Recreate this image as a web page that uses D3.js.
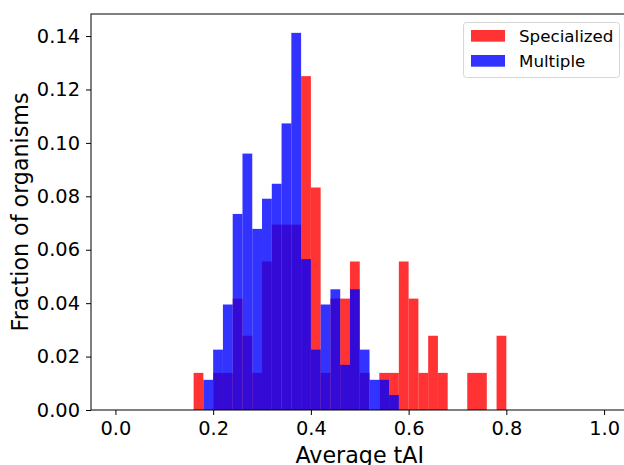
<!DOCTYPE html>
<html>
<head>
<meta charset="utf-8">
<script src="https://cdn.jsdelivr.net/npm/d3@7"></script>
<style>
  body { margin: 0; background: #fff; }
  svg { display: block; font-family: "DejaVu Sans", sans-serif; }
</style>
</head>
<body>
<svg id="hist" width="624" height="465"></svg>
<script>
// data (lower edge of each 0.02 bin, fraction of organisms per bin)
const binStarts = [0.16, 0.18, 0.20, 0.22, 0.24, 0.26, 0.28, 0.30, 0.32, 0.34, 0.36,
                   0.38, 0.40, 0.42, 0.44, 0.46, 0.48, 0.50, 0.52, 0.54, 0.56, 0.58,
                   0.60, 0.62, 0.64, 0.66, 0.68, 0.70, 0.72, 0.74, 0.76, 0.78],
    binWidth = 0.02,
    specialized = [0.0139, 0, 0.0139, 0.0139, 0.0417, 0.0278, 0.0139, 0.0556, 0.0694, 0.0694, 0.0694,
                   0.1250, 0.0833, 0.0139, 0.0417, 0.0417, 0.0556, 0.0139, 0, 0.0139, 0.0139, 0.0556,
                   0.0417, 0.0139, 0.0278, 0.0139, 0, 0, 0.0139, 0.0139, 0, 0.0278],
    multiple = [0, 0.0113, 0.0226, 0.0395, 0.0734, 0.0960, 0.0678, 0.0791, 0.0847, 0.1073, 0.1412,
                0.0565, 0.0226, 0.0395, 0.0452, 0.0169, 0.0452, 0.0226, 0.0113, 0.0113, 0.0056, 0,
                0, 0, 0, 0, 0, 0, 0, 0, 0, 0],
    xTicks = [0.0, 0.2, 0.4, 0.6, 0.8, 1.0],
    yTicks = [0.00, 0.02, 0.04, 0.06, 0.08, 0.10, 0.12, 0.14],
    seriesNames = ["Specialized", "Multiple"],
    seriesColors = ["#ff0000", "#0000ff"];

const svg = d3.select("#hist"),
    plot = {"left": 91, "top": 14, "right": 628.5, "bottom": 410},
    tickFont = 19.4,
    labelFont = 22.2;

const x = d3.scaleLinear()
    .domain([-0.05, 1.05])
    .range([plot.left, plot.right]);
const y = d3.scaleLinear()
    .domain([0, d3.max(multiple.concat(specialized)) * 1.05])
    .range([plot.bottom, plot.top]);

// bars, red first then blue on top
[specialized, multiple].forEach(function(values, s) {
  svg.append("g")
      .attr("fill", seriesColors[s])
      .attr("fill-opacity", 0.8)
    .selectAll("rect")
      .data(values)
    .enter().append("rect")
      .attr("x", function(d, i) { return x(binStarts[i]); })
      .attr("width", function(d, i) { return x(binStarts[i] + binWidth) - x(binStarts[i]); })
      .attr("y", function(d) { return y(d); })
      .attr("height", function(d) { return y(0) - y(d); });
});

// axes
const xAxis = svg.append("g")
    .attr("transform", "translate(0," + plot.bottom + ")")
    .call(d3.axisBottom(x).tickValues(xTicks).tickFormat(d3.format(".1f"))
      .tickSize(5).tickSizeOuter(0).tickPadding(6));
const yAxis = svg.append("g")
    .attr("transform", "translate(" + plot.left + ",0)")
    .call(d3.axisLeft(y).tickValues(yTicks).tickFormat(d3.format(".2f"))
      .tickSize(5).tickSizeOuter(0).tickPadding(6));
[xAxis, yAxis].forEach(function(a) {
  a.select(".domain").remove();
  a.selectAll("text")
      .attr("font-family", "DejaVu Sans")
      .attr("font-size", tickFont)
      .attr("fill", "#000");
  a.selectAll("line").attr("stroke", "#000").attr("stroke-width", 1);
});

// frame
svg.append("rect")
    .attr("x", plot.left)
    .attr("y", plot.top)
    .attr("width", plot.right - plot.left)
    .attr("height", plot.bottom - plot.top)
    .attr("fill", "none")
    .attr("stroke", "#000")
    .attr("stroke-width", 1);

// labels
svg.append("text")
    .attr("x", (plot.left + plot.right) / 2)
    .attr("y", 463)
    .attr("text-anchor", "middle")
    .attr("font-size", labelFont)
    .text("Average tAI");
svg.append("text")
    .attr("transform", "translate(28," + (plot.top + plot.bottom) / 2 + ") rotate(-90)")
    .attr("text-anchor", "middle")
    .attr("font-size", labelFont)
    .text("Fraction of organisms");

// legend
const legend = svg.append("g");
legend.append("rect")
    .attr("x", 463.5).attr("y", 22.5)
    .attr("width", 156).attr("height", 55)
    .attr("rx", 3)
    .attr("fill", "#fff")
    .attr("stroke", "#d6d6d6");
seriesNames.forEach(function(name, i) {
  legend.append("rect")
      .attr("x", 471).attr("y", 30 + i * 25)
      .attr("width", 34).attr("height", 11.7)
      .attr("fill", seriesColors[i])
      .attr("fill-opacity", 0.8);
  legend.append("text")
      .attr("x", 519).attr("y", 42 + i * 25)
      .attr("font-size", 16.7)
      .text(name);
});
</script>
</body>
</html>
